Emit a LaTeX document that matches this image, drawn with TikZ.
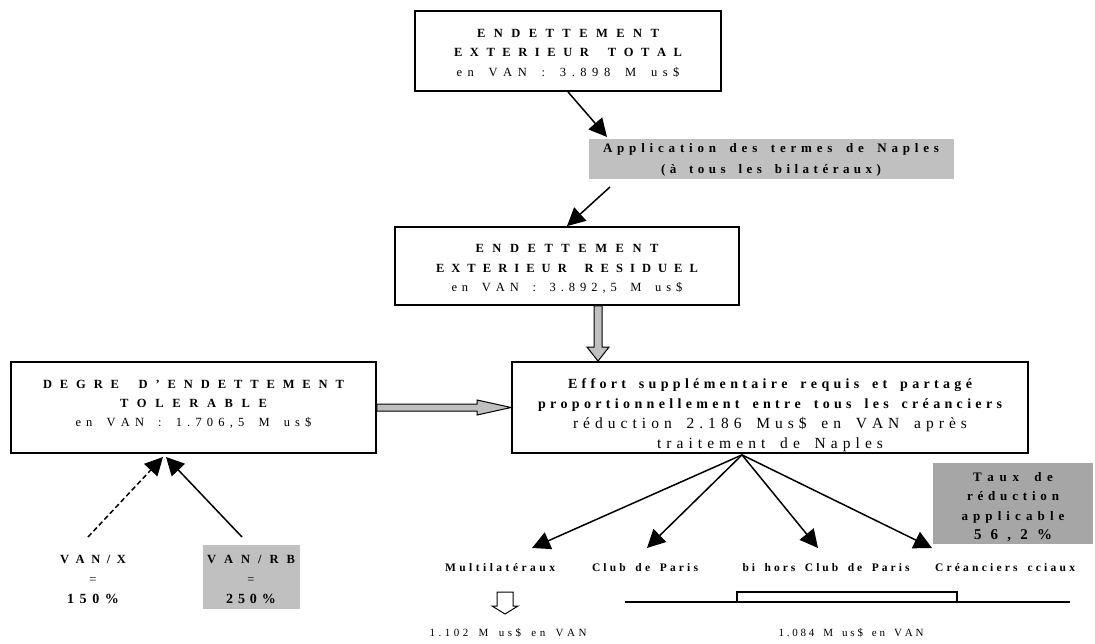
\documentclass[tikz,border=0pt]{standalone}
\usepackage{fontspec}
\setmainfont{Liberation Serif}
\usetikzlibrary{arrows.meta,calc}
% spread the letters of a line to a given width
\newcommand\ws{}
\def\spr#1{#1\sprnext}
\def\sprnext#1{\ifx#1\relax\else\ifx#1\ws\hskip0.3em\hfil\else\hfil#1\fi\expandafter\sprnext\fi}
\newcommand\sline[2]{\hbox to #1pt{\spr#2\relax}}
\newcommand\bl[2]{{\bfseries\sline{#1}{#2}}}
\newcommand\rl[2]{{\sline{#1}{#2}}}
\newcommand\rls[3]{{\fontsize{#1}{19.5}\selectfont\sline{#2}{#3}}}
\newcommand\bls[3]{{\fontsize{#1}{19.5}\selectfont\bfseries\sline{#2}{#3}}}
\definecolor{gfill}{HTML}{C0C0C0}
\definecolor{gdark}{HTML}{A6A6A6}
\begin{document}
\begin{tikzpicture}[x=1pt,y=-1pt,
  box/.style={draw, line width=1.8pt, inner sep=0pt},
  gbox/.style={fill=gfill, inner sep=0pt},
  txt/.style={align=center, inner sep=0pt},
  arr/.style={line width=1.5pt, -{Triangle[length=18pt,width=18pt]}},
  garrow/.style={draw, line width=1pt, fill=gfill},
  warrow/.style={draw, line width=1pt, fill=white},
  lab/.style={inner sep=0pt, font=\fontsize{11.5}{14}\selectfont\bfseries},
  val/.style={inner sep=0pt, font=\fontsize{11}{14}\selectfont}]
\useasboundingbox (0,0) rectangle (1095,644);
\fill[white] (0,0) rectangle (1095,644);

% boxes
\node[box, minimum width=306pt, minimum height=80pt] (tot) at (568,51) {};
\node[gbox, minimum width=365pt, minimum height=40pt] (app) at (771.5,159) {};
\node[box, minimum width=344pt, minimum height=78pt] (res) at (567,266) {};
\node[box, minimum width=516pt, minimum height=91pt] (effort) at (770,407.5) {};
\node[box, minimum width=365pt, minimum height=91pt] (degre) at (193.5,407.5) {};
\node[fill=gdark, inner sep=0pt, minimum width=160pt, minimum height=81pt] (taux) at (1013,503.5) {};
\node[gbox, minimum width=97pt, minimum height=64pt] (rbbox) at (251.5,577) {};

% texts
\node[txt, font=\fontsize{12.5}{19.5}\selectfont] (totT) at (568,53)
  {\bl{182}{ENDETTEMENT}\\\bl{228}{EXTERIEUR\ws TOTAL}\\\rls{12.5}{223}{en\ws VAN\ws :\ws 3.898\ws M\ws us\$}};
\node[txt, font=\fontsize{13}{21}\selectfont] (appT) at (771,160)
  {\bl{336}{Application\ws des\ws termes\ws de\ws Naples}\\\bl{220}{(à\ws tous\ws les\ws bilatéraux)}};
\node[txt, font=\fontsize{12.5}{19.5}\selectfont] (resT) at (567,269)
  {\bl{183}{ENDETTEMENT}\\\bl{262}{EXTERIEUR\ws RESIDUEL}\\\rls{12.5}{231}{en\ws VAN\ws :\ws 3.892,5\ws M\ws us\$}};
\node[txt, font=\fontsize{12.5}{19}\selectfont] (degT) at (193.5,404)
  {\bl{301}{DEGRE\ws D’ENDETTEMENT}\\\bl{147}{TOLERABLE}\\\rls{12.5}{236}{en\ws VAN\ws :\ws 1.706,5\ws M\ws us\$}};
\node[txt, font=\fontsize{14}{20}\selectfont] (effT) at (770,415)
  {\bl{404}{Effort\ws supplémentaire\ws requis\ws et\ws partagé}\\\bl{464}{proportionnellement\ws entre\ws tous\ws les\ws créanciers}\\\rls{15.5}{394}{réduction\ws 2.186\ws Mus\$\ws en\ws VAN\ws après}\\\rls{15.5}{226}{traitement\ws de\ws Naples}};
\node[txt, font=\fontsize{13}{19.5}\selectfont] (tauxT) at (1013,507)
  {\bl{80}{Taux\ws de}\\\bl{92}{réduction}\\\bl{103}{applicable}\\\bls{15}{78}{56,2\%}};
\node[txt, font=\fontsize{12.5}{20}\selectfont] (vanx) at (93,579)
  {\bl{66}{VAN/X}\\{=}\\\bls{14}{52}{150\%}};
\node[txt, font=\fontsize{12.5}{20}\selectfont] (vanrb) at (251,579)
  {\bl{88}{VAN/RB}\\{=}\\\bls{14}{50}{250\%}};

% labels
\node[lab] (multi) at (500,568) {\sline{110}{Multilatéraux}};
\node[lab] (club) at (645,568) {\sline{106}{Club\ws de\ws Paris}};
\node[lab] (bihors) at (826,568) {\sline{167}{bi\ws hors\ws Club\ws de\ws Paris}};
\node[lab] (cciaux) at (1005,568) {\sline{140}{Créanciers\ws cciaux}};
\node[val] (v1) at (508,633) {\sline{157}{1.102\ws M\ws us\$\ws en\ws VAN}};
\node[val] (v2) at (851,633) {\sline{145}{1.084\ws M\ws us\$\ws en\ws VAN}};

% coordinates
\coordinate (a1e) at (607,137);
\coordinate (a2s) at (610,187);
\coordinate (fo) at ($(effort.south)+(-28,1)$);
\coordinate (tM) at (532,548);
\coordinate (tC) at (647,548);
\coordinate (tB) at (818,548);
\coordinate (tK) at (932,548);
\coordinate (sx) at (88,537);
\coordinate (srb) at (242,537);
\coordinate (dt1) at (163,457);
\coordinate (dt2) at (166,457);

% arrows
\draw[arr] (tot.south) -- (a1e);
\draw[arr] (a2s) -- (res.north);
\foreach \t in {tM,tC,tB,tK} \draw[arr] (fo) -- (\t);
\draw[arr, dash pattern=on 5pt off 3pt] (sx) -- (dt1);
\draw[arr] (srb) -- (dt2);

% grey vertical block arrow
\coordinate (vs) at ($(res.south)+(31,0)$);
\coordinate (ve) at ($(effort.north)+(-172,0)$);
\draw[garrow] ($(vs)+(-4,0)$) -- ($(ve)+(-4,-14)$) -- ($(ve)+(-11,-14)$) -- (ve)
  -- ($(ve)+(11,-14)$) -- ($(ve)+(4,-14)$) -- ($(vs)+(4,0)$) -- cycle;

% grey horizontal block arrow
\draw[garrow] ($(degre.east)+(0,-3.5)$) -- ($(effort.west)+(-34,-3.5)$) -- ($(effort.west)+(-34,-7.5)$)
  -- (effort.west) -- ($(effort.west)+(-34,7.5)$) -- ($(effort.west)+(-34,3.5)$) -- ($(degre.east)+(0,3.5)$) -- cycle;

% white hollow arrow
\coordinate (ws) at (505,592);
\coordinate (we) at (505,614);
\draw[warrow] ($(ws)+(-8,0)$) -- ($(we)+(-8,-8)$) -- ($(we)+(-13,-8)$) -- (we)
  -- ($(we)+(13,-8)$) -- ($(we)+(8,-8)$) -- ($(ws)+(8,0)$) -- cycle;

% bracket
\draw[line width=1.5pt] (737,602) rectangle (957,592);
\draw[line width=2pt] (625,602) -- (1070,602);
\end{tikzpicture}
\end{document}
